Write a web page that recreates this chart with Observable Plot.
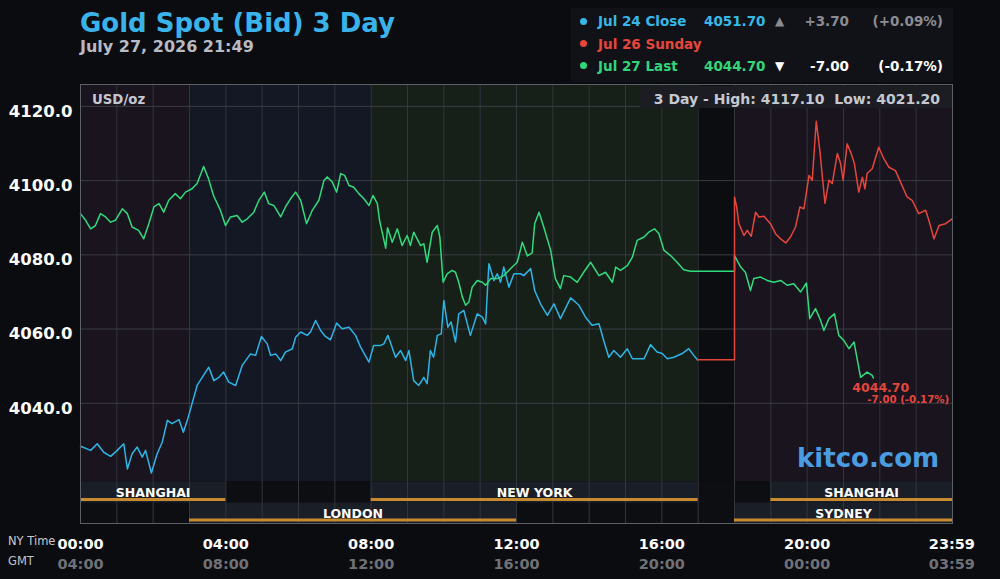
<!DOCTYPE html>
<html><head><meta charset="utf-8">
<script src="https://cdn.jsdelivr.net/npm/d3@7"></script>
<script src="https://cdn.jsdelivr.net/npm/@observablehq/plot@0.6"></script>
<style>
html,body{margin:0;padding:0;background:#0b0c10;}
#wrap{position:relative;width:1000px;height:579px;overflow:hidden;font-family:"DejaVu Sans",sans-serif;font-weight:bold;background:#0b0c10;}
.abs{position:absolute;white-space:pre;}
#chart{position:absolute;left:0;top:80px;}
</style></head><body><div id="wrap">
<div class="abs" style="left:80px;top:10px;font-size:26px;line-height:26px;color:#3ab3ea;">Gold Spot (Bid) 3 Day</div>
<div class="abs" id="sub" style="left:80px;top:39px;font-size:16px;line-height:16px;color:#b8bbc1;"></div>
<div class="abs" style="left:571px;top:8px;width:382px;height:74px;background:#111217;"></div>
<div id="legend"></div>
<div id="chart"></div>
<div class="abs" id="hilo" style="left:640px;top:86px;width:300px;height:20px;padding:2px 12px 0 0;background:#1c1d23;font-size:14px;line-height:22px;color:#c4c8d0;text-align:right;"></div>
<div class="abs" style="left:92px;top:92.6px;font-size:13.3px;line-height:13.3px;color:#c5c7d0;">USD/oz</div>
<div class="abs" style="left:797px;top:445px;font-size:26px;line-height:26px;color:#4a9de0;">kitco.com</div>
<div class="abs" style="left:8px;top:536px;font-size:11.5px;line-height:11.5px;font-weight:normal;color:#c7c9ce;">NY Time</div>
<div class="abs" style="left:8px;top:556px;font-size:11.5px;line-height:11.5px;font-weight:normal;color:#c0c2c6;">GMT</div>
</div>
<script>
// ---------- data ----------
const subtitleText = "July 27, 2026 21:49";
const highLowText = "3 Day - High: 4117.10\u00a0\u00a0Low: 4021.20";

const legendNames   = ["Jul 24 Close", "Jul 26 Sunday", "Jul 27 Last"];
const legendValues  = ["4051.70", "", "4044.70"];
const legendArrows  = ["\u25B2", "", "\u25BC"];
const legendChanges = ["+3.70", "", "-7.00"];
const legendPcts    = ["(+0.09%)", "", "(-0.17%)"];

const lastPriceLabel = "4044.70";
const lastChangeLabel = "-7.00 (-0.17%)";

const yTicks = [4040, 4060, 4080, 4100, 4120];
const xTicks = [0, 4, 8, 12, 16, 20, 23.983];
const nyLabels  = ["00:00","04:00","08:00","12:00","16:00","20:00","23:59"];
const gmtLabels = ["04:00","08:00","12:00","16:00","20:00","00:00","03:59"];

const zoneStart = [0, 3, 8, 17, 18];
const zoneEnd   = [3, 8, 17, 18, 24];
const zoneKind  = ["asia", "europe", "ny", "closed", "asia"];

const sessionNames = ["SHANGHAI", "LONDON", "NEW YORK", "SHANGHAI", "SYDNEY"];
const sessionStart = [0, 3, 8, 19, 18];
const sessionEnd   = [4, 12, 17, 24, 24];
const sessionRow   = [0, 1, 0, 0, 1];

// Jul 24 close (hours NY time, price)
const blueT = [0.00,0.28,0.46,0.64,0.83,1.01,1.19,1.29,1.42,1.56,
1.70,1.79,1.95,2.11,2.25,2.39,2.52,2.71,2.83,2.94,
3.07,3.21,3.35,3.53,3.67,3.81,3.94,4.08,4.27,4.45,
4.68,4.82,4.98,5.14,5.23,5.37,5.51,5.64,5.83,5.92,
6.06,6.24,6.33,6.47,6.61,6.74,6.88,7.05,7.20,7.39,
7.57,7.71,7.94,8.07,8.26,8.35,8.46,8.67,8.81,8.95,
9.04,9.17,9.31,9.45,9.54,9.63,9.72,9.82,9.93,10.00,
10.11,10.20,10.32,10.41,10.55,10.73,10.92,11.06,11.15,11.24,
11.38,11.47,11.56,11.65,11.79,11.93,12.11,12.20,12.39,12.50,
12.66,12.85,13.03,13.21,13.49,13.72,13.90,14.08,14.27,14.40,
14.54,14.68,14.86,15.05,15.19,15.51,15.69,15.87,16.01,16.15,
16.33,16.56,16.74,16.88,16.98];
const blueV = [4028.4,4027.3,4029.1,4026.8,4025.7,4027.3,4029.1,4022.3,4026.4,4028.2,
4025.5,4027.3,4021.2,4026.4,4029.5,4035.4,4034.5,4035.6,4032.2,4035.4,
4039.9,4044.8,4047.0,4049.7,4046.1,4047.0,4048.4,4045.7,4044.8,4050.2,
4053.3,4052.9,4058.0,4056.0,4052.9,4053.3,4051.5,4053.8,4054.7,4057.8,
4059.2,4058.3,4059.2,4062.3,4059.6,4058.0,4057.1,4061.6,4060.1,4060.5,
4058.3,4055.1,4051.1,4055.6,4055.6,4056.0,4058.3,4052.4,4054.2,4051.5,
4054.2,4046.1,4044.8,4047.0,4045.3,4054.2,4052.4,4058.3,4058.7,4067.7,
4060.5,4061.9,4056.5,4064.1,4065.0,4058.3,4064.1,4063.2,4061.4,4077.6,
4073.1,4074.9,4072.6,4076.7,4071.3,4074.9,4074.9,4074.4,4076.3,4070.4,
4066.8,4063.7,4066.8,4062.8,4068.4,4066.4,4063.2,4061.0,4061.4,4056.9,
4052.4,4054.2,4052.4,4054.7,4052.0,4052.0,4055.8,4053.8,4053.4,4052.0,
4052.4,4053.4,4054.7,4052.9,4051.7];

// Jul 26 Sunday
const redT = [16.98,18.00,18.00,18.06,18.12,18.26,18.35,18.46,18.58,18.67,
18.81,18.99,19.13,19.27,19.41,19.54,19.68,19.80,19.91,20.05,
20.14,20.25,20.35,20.42,20.49,20.60,20.69,20.83,20.92,20.99,
21.10,21.21,21.30,21.42,21.52,21.59,21.65,21.79,21.86,21.97,
22.11,22.25,22.43,22.57,22.75,22.89,23.07,23.26,23.35,23.49,
23.63,23.81,23.99];
const redV = [4051.7,4051.7,4095.6,4092.9,4088.4,4085.2,4086.6,4085.0,4091.5,4090.2,
4090.4,4088.4,4085.7,4084.3,4083.2,4084.8,4087.5,4092.9,4092.4,4101.4,
4100.1,4116.0,4108.1,4100.9,4093.9,4100.1,4099.2,4107.3,4104.6,4100.1,
4109.9,4107.3,4104.6,4096.9,4100.9,4097.8,4101.9,4103.2,4105.4,4109.0,
4105.9,4103.6,4102.7,4099.6,4095.6,4094.7,4091.1,4092.0,4089.3,4084.3,
4087.9,4088.4,4089.7];

// Jul 27 last
const greenT = [0.00,0.14,0.28,0.41,0.55,0.69,0.83,0.96,1.15,1.29,
1.42,1.60,1.74,1.88,2.02,2.16,2.29,2.43,2.61,2.75,
2.89,3.07,3.21,3.39,3.52,3.66,3.85,3.99,4.13,4.31,
4.45,4.59,4.77,4.91,5.06,5.18,5.32,5.51,5.64,5.78,
5.92,6.06,6.22,6.38,6.56,6.70,6.79,6.93,7.05,7.16,
7.27,7.39,7.52,7.66,7.80,7.94,8.05,8.17,8.23,8.40,
8.45,8.58,8.72,8.85,8.99,9.08,9.17,9.36,9.45,9.54,
9.68,9.82,9.89,9.98,10.09,10.23,10.32,10.41,10.51,10.60,
10.69,10.78,10.92,11.06,11.15,11.29,11.47,11.65,11.84,12.02,
12.16,12.30,12.43,12.50,12.62,12.75,12.94,13.07,13.21,13.30,
13.49,13.67,13.85,14.04,14.27,14.45,14.64,14.73,14.86,15.05,
15.19,15.32,15.51,15.64,15.80,15.92,16.06,16.24,16.42,16.60,
16.79,18.00,18.00,18.17,18.30,18.44,18.53,18.72,18.90,19.08,
19.27,19.45,19.63,19.82,19.98,20.07,20.23,20.37,20.46,20.60,
20.75,20.87,21.01,21.15,21.29,21.47,21.65,21.79,21.82];
const greenV = [4091.1,4089.3,4087.0,4087.9,4091.1,4090.2,4088.8,4089.3,4092.4,4091.1,
4087.5,4086.6,4084.3,4088.4,4092.9,4093.8,4091.5,4094.7,4096.5,4095.1,
4096.9,4097.8,4099.2,4103.8,4100.6,4096.0,4092.0,4087.9,4090.2,4090.6,
4088.8,4089.7,4091.5,4094.7,4096.9,4093.8,4093.3,4090.2,4092.9,4095.1,
4096.9,4094.7,4088.4,4092.0,4094.7,4100.0,4101.0,4099.6,4096.9,4101.9,
4101.4,4098.7,4098.2,4096.5,4095.1,4093.3,4096.0,4093.8,4089.3,4081.8,
4087.3,4083.4,4087.0,4082.5,4085.2,4082.5,4086.1,4082.5,4083.0,4078.0,
4086.1,4087.9,4084.8,4072.6,4074.9,4075.8,4075.3,4072.6,4068.6,4066.4,
4067.3,4071.3,4073.1,4072.6,4071.8,4073.6,4073.6,4074.4,4076.3,4078.0,
4083.4,4079.7,4080.5,4088.4,4091.5,4087.5,4081.2,4073.6,4070.9,4074.4,
4074.0,4072.6,4075.3,4078.0,4074.4,4075.3,4072.6,4076.7,4075.8,4077.1,
4079.4,4083.9,4084.8,4086.1,4087.0,4085.7,4081.2,4079.8,4078.0,4076.0,
4075.6,4075.6,4079.8,4076.7,4075.3,4070.4,4073.6,4074.0,4073.1,4072.6,
4073.1,4071.8,4072.2,4070.0,4072.4,4062.8,4065.5,4062.3,4059.6,4062.8,
4064.1,4058.3,4056.9,4054.7,4056.5,4047.0,4048.4,4047.5,4046.8];

// ---------- styles ----------
const C = {blue:"#2bb5e6", red:"#e5463c", green:"#2fdb7c",
  legendBlue:"#36b8e8", legendRed:"#e8463b", legendGreen:"#2fd67a",
  grey:"#8a8c92", white:"#ffffff"};
const zoneFill = {asia:"#1a141f", europe:"#131824", ny:"#161f18", closed:"#0c0d10"};
const legendColors = [C.legendBlue, C.legendRed, C.legendGreen];
const legendSubColors = [C.grey, C.grey, C.white];

// ---------- header / legend ----------
document.getElementById("sub").textContent = subtitleText;
document.getElementById("hilo").textContent = highLowText;
const lg = document.getElementById("legend");
const baseTop = [15.3, 37.6, 59.8];
legendNames.forEach((name, i) => {
  const top = baseTop[i];
  const add = (txt, style) => { const s = document.createElement("div"); s.className = "abs"; s.textContent = txt;
    s.style.cssText += `top:${top}px;font-size:13.5px;line-height:13.5px;` + style; lg.appendChild(s); };
  const dot = document.createElement("div"); dot.className = "abs";
  dot.style.cssText += `left:580px;top:${top+2.5}px;width:7px;height:7px;border-radius:50%;background:${legendColors[i]};`;
  lg.appendChild(dot);
  add(name, `left:598px;color:${legendColors[i]};`);
  if (legendValues[i]) add(legendValues[i], `left:704px;color:${legendColors[i]};`);
  if (legendArrows[i]) add(legendArrows[i], `left:775px;font-size:12px;color:${legendSubColors[i]};`);
  if (legendChanges[i]) add(legendChanges[i], `right:151px;color:${legendSubColors[i]};`);
  if (legendPcts[i]) add(legendPcts[i], `right:57px;color:${legendSubColors[i]};`);
});

// ---------- chart ----------
const series = (T, V) => T.map((t, i) => ({t, v: V[i]}));
const blue = series(blueT, blueV), red = series(redT, redV), green = series(greenT, greenV);
const zones = zoneStart.map((s, i) => ({start: s, end: zoneEnd[i], kind: zoneKind[i]}));
const sessions = sessionNames.map((n, i) => ({name: n, start: sessionStart[i], end: sessionEnd[i], row: sessionRow[i]}));
const last = green[green.length - 1];

const yDom = [4007.6, 4125.9];
const bandTop = 4018.8, bandMid = 4013.1;
const rowY = [[bandMid, bandTop], [yDom[0], bandMid]];

const chart = Plot.plot({
  width: 1000, height: 499,
  marginTop: 4, marginBottom: 56, marginLeft: 80, marginRight: 48,
  x: {domain: [0, 24], axis: null},
  y: {domain: yDom, axis: null},
  style: {background: "transparent", color: "#fff", fontFamily: "DejaVu Sans", overflow: "visible"},
  marks: [
    Plot.rect(zones, {x1: "start", x2: "end", y1: bandTop, y2: yDom[1], fill: d => zoneFill[d.kind]}),
    Plot.rect([0], {x1: 0, x2: 24, y1: yDom[0], y2: bandTop, fill: "#0d0e12"}),
    Plot.rect(sessions, {x1: "start", x2: "end", y1: d => rowY[d.row][0], y2: d => rowY[d.row][1], fill: "#1a1e27"}),
    Plot.ruleX(d3.range(1, 24), {stroke: "#33353d", strokeWidth: 1}),
    Plot.ruleY(yTicks, {stroke: "#3b3d45", strokeWidth: 1}),
    Plot.ruleY(sessions, {x1: "start", x2: "end", y: d => rowY[d.row][0], dy: -3.5, stroke: "#c88a2e", strokeWidth: 3}),
    Plot.text(sessions, {x: d => (d.start + d.end) / 2, y: d => (rowY[d.row][0] + rowY[d.row][1]) / 2,
      text: "name", fill: "#fff", fontSize: 12.5, fontWeight: "bold", dy: 0.5}),
    Plot.line(blue, {x: "t", y: "v", stroke: C.blue, strokeWidth: 1.5}),
    Plot.line(green, {x: "t", y: "v", stroke: C.green, strokeWidth: 1.5}),
    Plot.line(red, {x: "t", y: "v", stroke: C.red, strokeWidth: 1.5}),
    Plot.text([last], {x: "t", y: "v", text: () => lastPriceLabel, textAnchor: "start", dx: -21, dy: 10,
      fill: C.red, fontSize: 12.5, fontWeight: "bold"}),
    Plot.text([last], {x: "t", y: "v", text: () => lastChangeLabel, textAnchor: "start", dx: -6, dy: 22,
      fill: C.red, fontSize: 10.2, fontWeight: "bold"}),
    Plot.frame({stroke: "#5d5f66"}),
    Plot.axisY({ticks: yTicks, tickFormat: d => d.toFixed(1), tickSize: 0, tickPadding: 8,
      fontSize: 16.5, fontWeight: "bold", color: "#fff", fill: "#fff", dy: 5, label: null}),
    Plot.axisX({ticks: xTicks, tickFormat: d => nyLabels[xTicks.indexOf(d)], tickSize: 0, tickPadding: 15.5,
      fontSize: 14.5, fontWeight: "bold", color: "#fff", fill: "#fff", label: null}),
    Plot.axisX({ticks: xTicks, tickFormat: d => gmtLabels[xTicks.indexOf(d)], tickSize: 0, tickPadding: 35.5,
      fontSize: 14.5, fontWeight: "bold", color: "#6f7177", fill: "#6f7177", label: null})
  ]
});
document.getElementById("chart").appendChild(chart);
</script>
</body></html>
